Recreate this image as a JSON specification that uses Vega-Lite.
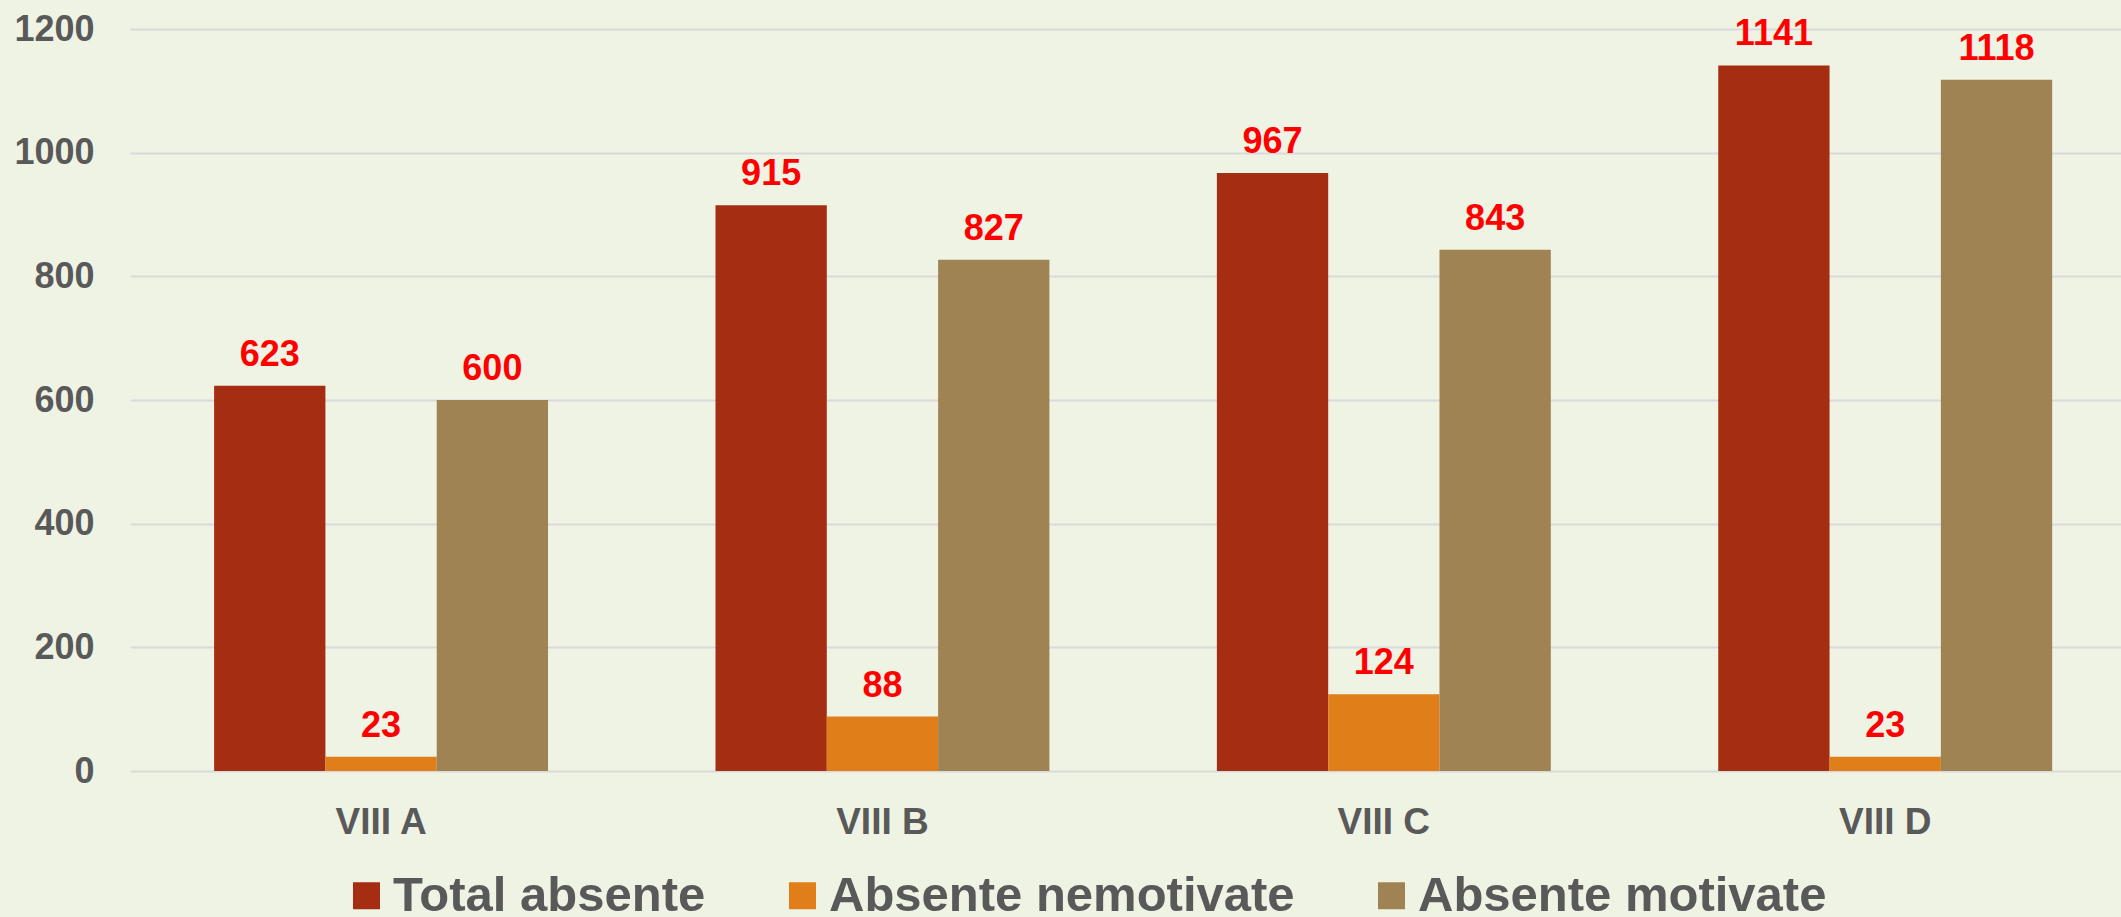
{
  "$schema": "https://vega.github.io/schema/vega-lite/v6.json",
  "width": 1991,
  "height": 742,
  "autosize": {"type": "none"},
  "padding": {"left": 130, "top": 29, "right": 0, "bottom": 146},
  "background": "#EFF3E4",
  "config": {"view": {"stroke": null}, "font": "Liberation Sans"},
  "data": {
    "values": [
      {"class": "VIII A", "series": "Total absente", "value": 623},
      {"class": "VIII A", "series": "Absente nemotivate", "value": 23},
      {"class": "VIII A", "series": "Absente motivate", "value": 600},
      {"class": "VIII B", "series": "Total absente", "value": 915},
      {"class": "VIII B", "series": "Absente nemotivate", "value": 88},
      {"class": "VIII B", "series": "Absente motivate", "value": 827},
      {"class": "VIII C", "series": "Total absente", "value": 967},
      {"class": "VIII C", "series": "Absente nemotivate", "value": 124},
      {"class": "VIII C", "series": "Absente motivate", "value": 843},
      {"class": "VIII D", "series": "Total absente", "value": 1141},
      {"class": "VIII D", "series": "Absente nemotivate", "value": 23},
      {"class": "VIII D", "series": "Absente motivate", "value": 1118}
    ]
  },
  "encoding": {
    "x": {
      "field": "class", "type": "nominal",
      "sort": ["VIII A", "VIII B", "VIII C", "VIII D"],
      "scale": {"paddingInner": 0.334, "paddingOuter": 0.1525, "align": 0.55},
      "axis": {"title": null, "labelAngle": 0, "labelFontSize": 37, "labelFontWeight": "bold", "labelColor": "#595959", "ticks": false, "domain": false, "labelPadding": 33}
    },
    "xOffset": {
      "field": "series", "type": "nominal",
      "sort": ["Total absente", "Absente nemotivate", "Absente motivate"],
      "scale": {"paddingInner": 0, "paddingOuter": 0}
    },
    "y": {
      "field": "value", "type": "quantitative",
      "scale": {"domain": [0, 1200], "nice": false},
      "axis": {"title": null, "format": "d", "values": [0, 200, 400, 600, 800, 1000, 1200], "labelFontSize": 36, "labelFontWeight": "bold", "labelColor": "#595959", "ticks": false, "domain": false, "labelPadding": 36, "gridColor": "#D9D9D9", "gridWidth": 2}
    }
  },
  "layer": [
    {
      "mark": {"type": "bar"},
      "encoding": {
        "color": {
          "field": "series", "type": "nominal",
          "scale": {"domain": ["Total absente", "Absente nemotivate", "Absente motivate"], "range": ["#A52E12", "#E07E1A", "#A08352"]},
          "legend": {"orient": "none", "legendX": 212, "legendY": 842, "direction": "horizontal", "title": null, "symbolType": "square", "symbolSize": 729, "symbolStrokeWidth": 0, "symbolOpacity": 1, "labelFontSize": 49, "labelFontWeight": "bold", "labelColor": "#595959", "labelLimit": 800, "labelOffset": 2, "columnPadding": 72, "padding": 0}
        }
      }
    },
    {
      "mark": {"type": "text", "dy": -20, "baseline": "alphabetic", "fontSize": 36, "fontWeight": "bold", "color": "#FF0000"},
      "encoding": {"text": {"field": "value", "type": "quantitative"}}
    }
  ]
}
